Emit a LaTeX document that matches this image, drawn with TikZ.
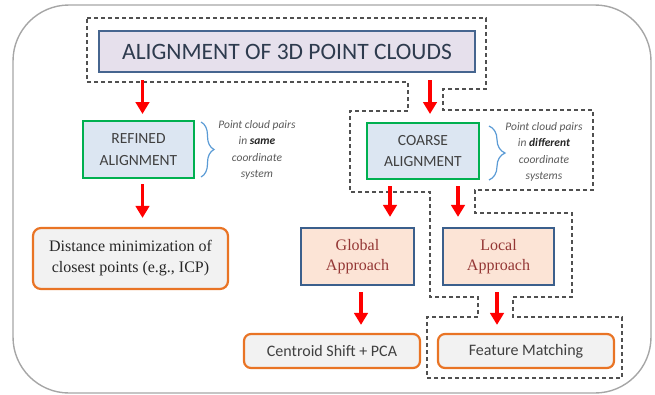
\documentclass[tikz,border=0pt]{standalone}
\usepackage{fontspec}
\setmainfont{Liberation Serif}
\newfontfamily\calfont{Carlito}
\usetikzlibrary{arrows.meta,decorations.pathreplacing,calc}
\definecolor{titlefill}{HTML}{E6E0EC}
\definecolor{titleborder}{HTML}{46658F}
\definecolor{titletext}{HTML}{2E3B4E}
\definecolor{greenborder}{HTML}{00B050}
\definecolor{bluefill}{HTML}{DCE6F2}
\definecolor{darktext}{HTML}{404040}
\definecolor{blueborder}{HTML}{3B5F8C}
\definecolor{peachfill}{HTML}{FCE4D6}
\definecolor{redtext}{HTML}{943634}
\definecolor{orangeborder}{HTML}{E97425}
\definecolor{grayfill}{HTML}{F2F2F2}
\definecolor{notetext}{HTML}{595959}
\definecolor{arrowred}{HTML}{FF0000}
\definecolor{dashgray}{HTML}{505050}
\definecolor{bracecol}{HTML}{5B9BD5}
\definecolor{framegray}{HTML}{A6A6A6}
\begin{document}
\begin{tikzpicture}[x=1pt,y=-1pt,
 titlebox/.style={draw=titleborder, fill=titlefill, line width=2pt, minimum width=376pt, minimum height=41pt, inner sep=0pt, font=\calfont\fontsize{23.5}{28}\selectfont, text=titletext},
 greenbox/.style={draw=greenborder, fill=bluefill, line width=2pt, minimum width=111pt, minimum height=57pt, inner sep=0pt, align=center, font=\calfont\fontsize{15.5}{21.5}\selectfont, text=darktext},
 peachbox/.style={draw=blueborder, fill=peachfill, line width=2.2pt, minimum width=113pt, minimum height=57pt, inner sep=0pt, align=center, font=\fontsize{16}{20}\selectfont, text=redtext},
 orangebox/.style={draw=orangeborder, fill=grayfill, line width=2.2pt, rounded corners=8pt, inner sep=0pt, align=center},
 note/.style={align=center, font=\calfont\itshape\fontsize{11.5}{16.5}\selectfont, text=notetext, inner sep=0pt},
 redarrow/.style={draw=arrowred, line width=3.8pt, -{Triangle[width=13.5pt,length=12pt]}},
 dashline/.style={draw=dashgray, line width=1.1pt, dash pattern=on 4pt off 3pt},
 bracestyle/.style={draw=bracecol, line width=1.2pt, decorate, decoration={brace, amplitude=#1}},
]
\useasboundingbox (0,0) rectangle (655,394);
% outer frame
\draw[framegray, line width=1.4pt, rounded corners=56pt] (13,5) rectangle (651,393);
% dashed outline
\draw[dashline] (87,18) -- (486,18) -- (486,89) -- (443,89) -- (443,110) -- (593,110) -- (593,190) -- (475,190) -- (475,213) -- (572,213) -- (572,297) -- (513,297) -- (513,317) -- (622,317) -- (622,378) -- (427,378) -- (427,317) -- (478,317) -- (478,297) -- (430,297) -- (430,192) -- (350,192) -- (350,111) -- (408,111) -- (408,82) -- (87,82) -- cycle;
% nodes
\node[titlebox] (title) at (287,51.5) {ALIGNMENT OF 3D POINT CLOUDS};
\node[greenbox] (refined) at (138.5,149.5) {REFINED\\ALIGNMENT};
\node[greenbox, minimum width=112pt, minimum height=56pt] (coarse) at (423,151) {COARSE\\ALIGNMENT};
\node[note] (note1) at (257,150) {Point cloud pairs\\in \textbf{\textcolor{black!85}{same}}\\coordinate\\system};
\node[note] (note2) at (544,152) {Point cloud pairs\\in \textbf{\textcolor{black!85}{different}}\\coordinate\\systems};
\node[orangebox, minimum width=195pt, minimum height=61pt, font=\fontsize{16}{21}\selectfont, text=black!85] (distance) at (130.5,258.5) {Distance minimization of\\closest points (e.g., ICP)};
\node[peachbox] (global) at (357.5,256.5) {Global\\Approach};
\node[peachbox, minimum width=111pt] (local) at (498.5,256.5) {Local\\Approach};
\node[orangebox, minimum width=176pt, minimum height=34pt, rounded corners=7pt, font=\calfont\fontsize{16}{19}\selectfont, text=darktext] (centroid) at (332,351) {Centroid Shift + PCA};
\node[orangebox, minimum width=176pt, minimum height=34pt, rounded corners=7pt, font=\calfont\fontsize{16}{19}\selectfont, text=darktext] (feature) at (526,351) {Feature Matching};
% braces
\draw[bracestyle=13pt] ($(refined.north east)+(6,2)$) -- ($(refined.south east)+(6,-2)$);
\draw[bracestyle=16pt] ($(coarse.north east)+(9,4)$) -- ($(coarse.south east)+(9,0)$);
% arrows
\draw[redarrow, shorten <=7pt, shorten >=6pt] ($(refined.north |- title.south)+(4,0)$) -- ($(refined.north)+(4,0)$);
\draw[redarrow, shorten <=7pt, shorten >=8pt] ($(coarse.north |- title.south)+(7,0)$) -- ($(coarse.north)+(7,0)$);
\draw[redarrow, shorten <=5pt, shorten >=9pt] ($(refined.south)+(4,0)$) -- ($(distance.north -| refined.south)+(4,0)$);
\draw[redarrow, shorten <=6pt, shorten >=10pt] ($(coarse.south)+(-33,0)$) -- ($(global.north -| coarse.south)+(-33,0)$);
\draw[redarrow, shorten <=6pt, shorten >=10pt] ($(coarse.south)+(35,0)$) -- ($(local.north -| coarse.south)+(35,0)$);
\draw[redarrow, shorten <=6pt, shorten >=8pt] ($(global.south)+(3.5,0)$) -- ($(centroid.north -| global.south)+(3.5,0)$);
\draw[redarrow, shorten <=6pt, shorten >=8pt] ($(local.south)+(-1.5,0)$) -- ($(feature.north -| local.south)+(-1.5,0)$);
\end{tikzpicture}
\end{document}
